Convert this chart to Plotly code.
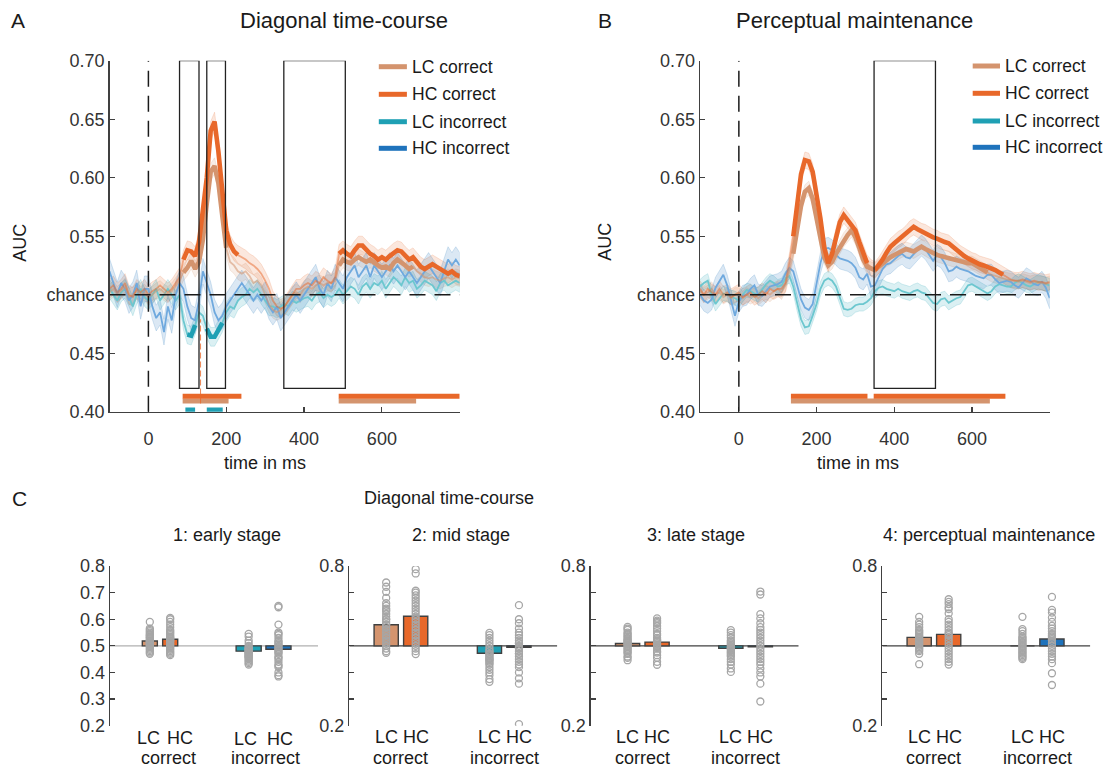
import plotly.graph_objects as go

# ---------------- data ----------------
T = list(range(-100, 801, 10))
SERIES = ["LC correct", "HC correct", "LC incorrect", "HC incorrect"]

A_LC_COR = [0.502, 0.505, 0.500, 0.503, 0.507, 0.498, 0.500, 0.503, 0.500, 0.502,
            0.498, 0.500, 0.503, 0.505, 0.502, 0.500, 0.503, 0.507, 0.512, 0.519,
            0.523, 0.529, 0.522, 0.528, 0.547, 0.578, 0.605, 0.610, 0.595, 0.567,
            0.540, 0.528, 0.525, 0.520, 0.518, 0.520, 0.516, 0.510, 0.512, 0.508,
            0.500, 0.492, 0.487, 0.485, 0.487, 0.490, 0.495, 0.500, 0.502, 0.500,
            0.505, 0.507, 0.505, 0.508, 0.510, 0.508, 0.510, 0.510, 0.512, 0.525,
            0.530, 0.528, 0.527, 0.530, 0.532, 0.530, 0.528, 0.530, 0.527, 0.525,
            0.523, 0.524, 0.522, 0.527, 0.530, 0.528, 0.525, 0.522, 0.524, 0.520,
            0.518, 0.515, 0.514, 0.515, 0.513, 0.512, 0.514, 0.515, 0.513, 0.515,
            0.514]
A_HC_COR = [0.505, 0.508, 0.502, 0.505, 0.510, 0.500, 0.498, 0.505, 0.502, 0.505,
            0.500, 0.503, 0.505, 0.508, 0.505, 0.502, 0.505, 0.510, 0.515, 0.530,
            0.538, 0.537, 0.533, 0.545, 0.570, 0.600, 0.640, 0.648, 0.622, 0.587,
            0.555, 0.543, 0.537, 0.534, 0.532, 0.530, 0.527, 0.525, 0.522, 0.518,
            0.512, 0.505, 0.495, 0.490, 0.488, 0.490, 0.495, 0.500, 0.505, 0.505,
            0.508, 0.510, 0.508, 0.512, 0.510, 0.515, 0.512, 0.510, 0.515, 0.535,
            0.538, 0.535, 0.533, 0.538, 0.542, 0.542, 0.538, 0.535, 0.533, 0.530,
            0.532, 0.530, 0.533, 0.536, 0.538, 0.537, 0.533, 0.530, 0.532, 0.528,
            0.524, 0.522, 0.524, 0.526, 0.524, 0.522, 0.520, 0.518, 0.520, 0.517,
            0.516]
A_LC_INC = [0.505, 0.500, 0.495, 0.502, 0.505, 0.498, 0.490, 0.500, 0.505, 0.498,
            0.495, 0.500, 0.505, 0.495, 0.500, 0.505, 0.500, 0.495, 0.500, 0.478,
            0.466, 0.465, 0.474, 0.485, 0.482, 0.471, 0.464, 0.464, 0.470, 0.476,
            0.485, 0.490, 0.488, 0.495, 0.498, 0.500, 0.505, 0.502, 0.505, 0.500,
            0.495, 0.490, 0.490, 0.488, 0.490, 0.492, 0.490, 0.495, 0.493, 0.495,
            0.497, 0.498, 0.495, 0.500, 0.502, 0.497, 0.500, 0.498, 0.500, 0.505,
            0.500, 0.503, 0.507, 0.505, 0.500, 0.507, 0.510, 0.505, 0.510, 0.508,
            0.512, 0.505, 0.510, 0.515, 0.512, 0.508, 0.515, 0.510, 0.512, 0.505,
            0.508, 0.512, 0.510, 0.508, 0.503, 0.510, 0.512, 0.508, 0.510, 0.512,
            0.510]
A_HC_INC = [0.520, 0.510, 0.500, 0.510, 0.505, 0.495, 0.500, 0.510, 0.490, 0.505,
            0.505, 0.490, 0.480, 0.485, 0.468, 0.490, 0.478, 0.500, 0.510, 0.505,
            0.490, 0.480, 0.478, 0.495, 0.520, 0.510, 0.500, 0.485, 0.478, 0.482,
            0.490, 0.495, 0.500, 0.505, 0.510, 0.505, 0.500, 0.495, 0.500, 0.495,
            0.500, 0.490, 0.485, 0.490, 0.480, 0.485, 0.490, 0.495, 0.500, 0.495,
            0.500, 0.505, 0.510, 0.515, 0.505, 0.500, 0.510, 0.505, 0.515, 0.510,
            0.505, 0.515, 0.520, 0.525, 0.515, 0.520, 0.525, 0.515, 0.525, 0.520,
            0.515, 0.520, 0.525, 0.520, 0.525, 0.520, 0.515, 0.520, 0.515, 0.510,
            0.515, 0.520, 0.525, 0.520, 0.515, 0.510, 0.520, 0.530, 0.525, 0.530,
            0.525]

B_LC_COR = [0.503, 0.500, 0.502, 0.505, 0.500, 0.502, 0.498, 0.500, 0.497, 0.500,
            0.500, 0.497, 0.500, 0.498, 0.500, 0.497, 0.500, 0.502, 0.500, 0.503,
            0.505, 0.502, 0.508, 0.520, 0.535, 0.558, 0.576, 0.588, 0.591, 0.582,
            0.564, 0.546, 0.532, 0.525, 0.528, 0.535, 0.541, 0.547, 0.551, 0.555,
            0.549, 0.540, 0.530, 0.524, 0.522, 0.521, 0.524, 0.527, 0.530, 0.532,
            0.534, 0.536, 0.538, 0.539, 0.538, 0.537, 0.539, 0.541, 0.539, 0.537,
            0.535, 0.534, 0.533, 0.532, 0.531, 0.530, 0.529, 0.528, 0.528, 0.527,
            0.527, 0.525, 0.523, 0.521, 0.519, 0.517, 0.516, 0.515, 0.514, 0.513,
            0.512, 0.512, 0.511, 0.512, 0.511, 0.510, 0.511, 0.510, 0.510, 0.509,
            0.510]
B_HC_COR = [0.505, 0.500, 0.505, 0.502, 0.500, 0.505, 0.500, 0.502, 0.498, 0.500,
            0.502, 0.498, 0.500, 0.502, 0.498, 0.500, 0.503, 0.500, 0.505, 0.503,
            0.505, 0.505, 0.510, 0.528, 0.550, 0.580, 0.603, 0.615, 0.614, 0.605,
            0.587, 0.565, 0.540, 0.527, 0.535, 0.550, 0.562, 0.568, 0.564, 0.560,
            0.555, 0.545, 0.535, 0.527, 0.523, 0.521, 0.525, 0.530, 0.536, 0.541,
            0.544, 0.547, 0.549, 0.552, 0.556, 0.558, 0.556, 0.554, 0.553, 0.551,
            0.549, 0.548, 0.546, 0.545, 0.544, 0.541, 0.538, 0.535, 0.533, 0.531,
            0.529, 0.528, 0.526, 0.525, 0.524, 0.523, 0.521, 0.519, 0.517, 0.515,
            0.513, 0.512, 0.512, 0.513, 0.512, 0.511, 0.512, 0.511, 0.511, 0.510,
            0.511]
B_LC_INC = [0.507, 0.510, 0.512, 0.500, 0.492, 0.497, 0.501, 0.500, 0.498, 0.497,
            0.495, 0.500, 0.504, 0.503, 0.501, 0.500, 0.505, 0.509, 0.512, 0.510,
            0.507, 0.508, 0.514, 0.516, 0.507, 0.492, 0.479, 0.472, 0.473, 0.482,
            0.492, 0.505, 0.512, 0.514, 0.512, 0.507, 0.497, 0.488, 0.487, 0.488,
            0.491, 0.492, 0.492, 0.494, 0.497, 0.503, 0.506, 0.507, 0.505, 0.504,
            0.503, 0.505, 0.503, 0.502, 0.501, 0.503, 0.504, 0.502, 0.501, 0.497,
            0.493, 0.492, 0.496, 0.497, 0.493, 0.495, 0.497, 0.498, 0.503, 0.508,
            0.509, 0.507, 0.505, 0.503, 0.501, 0.503, 0.507, 0.509, 0.508, 0.507,
            0.507, 0.510, 0.512, 0.510, 0.508, 0.507, 0.509, 0.511, 0.510, 0.509,
            0.508]
B_HC_INC = [0.500, 0.495, 0.493, 0.496, 0.506, 0.512, 0.517, 0.508, 0.495, 0.482,
            0.494, 0.499, 0.500, 0.505, 0.508, 0.500, 0.499, 0.503, 0.507, 0.508,
            0.509, 0.511, 0.518, 0.523, 0.520, 0.508, 0.496, 0.489, 0.487, 0.492,
            0.509, 0.527, 0.539, 0.540, 0.538, 0.534, 0.531, 0.530, 0.529, 0.527,
            0.523, 0.515, 0.513, 0.518, 0.507, 0.508, 0.515, 0.522, 0.526, 0.527,
            0.530, 0.533, 0.535, 0.532, 0.531, 0.535, 0.538, 0.542, 0.539, 0.534,
            0.529, 0.534, 0.532, 0.527, 0.520, 0.521, 0.524, 0.522, 0.521, 0.520,
            0.518, 0.516, 0.515, 0.514, 0.517, 0.517, 0.513, 0.510, 0.511, 0.512,
            0.511, 0.508, 0.506, 0.510, 0.514, 0.512, 0.509, 0.508, 0.511, 0.506,
            0.497]

# half-width of the shaded error band per series (LC cor, HC cor, LC inc, HC inc)
A_SEM = [0.007, 0.008, 0.008, 0.011]
B_SEM = [0.006, 0.007, 0.006, 0.009]

# significant clusters (ms)
A_SIG = {"HC correct": [(88, 239), (489, 800)],
         "LC correct": [(88, 206), (489, 688)],
         "LC incorrect": [(95, 120), (150, 191)]}
B_SIG = {"HC correct": [(134, 331), (347, 686)],
         "LC correct": [(134, 646)]}

# analysis windows (ms)
A_WINDOWS = [(80, 130), (150, 198), (348, 506)]
B_WINDOWS = [(348, 506)]
PEAK_MARK_T = 134

# panel C: mean AUC per condition (LC cor, HC cor, LC inc, HC inc)
C_TITLES = ["1: early stage", "2: mid stage", "3: late stage", "4: perceptual maintenance"]
C_MEANS = [[0.518, 0.525, 0.480, 0.487],
           [0.579, 0.611, 0.472, 0.495],
           [0.509, 0.514, 0.491, 0.496],
           [0.532, 0.543, 0.500, 0.526]]

C1_POINTS = [
    [0.590, 0.565, 0.560, 0.555, 0.550, 0.545, 0.540, 0.540, 0.535, 0.530, 0.530, 0.525, 0.520, 0.520,
     0.515, 0.515, 0.510, 0.510, 0.505, 0.500, 0.500, 0.495, 0.490, 0.485, 0.480, 0.475, 0.470],
    [0.605, 0.600, 0.590, 0.580, 0.570, 0.560, 0.555, 0.550, 0.545, 0.540, 0.535, 0.530, 0.525, 0.520,
     0.520, 0.515, 0.510, 0.505, 0.500, 0.495, 0.490, 0.485, 0.480, 0.475, 0.470, 0.465, 0.530],
    [0.545, 0.535, 0.520, 0.510, 0.500, 0.495, 0.490, 0.485, 0.480, 0.480, 0.475, 0.470, 0.470, 0.465,
     0.460, 0.455, 0.450, 0.445, 0.440, 0.435, 0.430, 0.460, 0.475, 0.485, 0.490, 0.465, 0.455],
    [0.650, 0.645, 0.580, 0.550, 0.545, 0.540, 0.530, 0.520, 0.515, 0.510, 0.505, 0.500, 0.495, 0.490,
     0.485, 0.480, 0.475, 0.470, 0.460, 0.455, 0.450, 0.440, 0.430, 0.425, 0.420, 0.400, 0.390, 0.385]]
C2_POINTS = [
    [0.738, 0.722, 0.703, 0.680, 0.660, 0.650, 0.640, 0.635, 0.630, 0.620, 0.610, 0.600, 0.590, 0.580,
     0.570, 0.560, 0.550, 0.540, 0.530, 0.520, 0.510, 0.500, 0.490, 0.480, 0.474, 0.600, 0.580],
    [0.788, 0.772, 0.707, 0.700, 0.690, 0.680, 0.670, 0.660, 0.650, 0.640, 0.630, 0.620, 0.610, 0.600,
     0.590, 0.580, 0.570, 0.560, 0.550, 0.540, 0.530, 0.520, 0.510, 0.500, 0.490, 0.480, 0.469],
    [0.549, 0.540, 0.530, 0.520, 0.510, 0.500, 0.490, 0.480, 0.470, 0.465, 0.460, 0.455, 0.450, 0.445,
     0.440, 0.435, 0.430, 0.420, 0.410, 0.400, 0.390, 0.375, 0.365, 0.470, 0.450, 0.480],
    [0.653, 0.600, 0.585, 0.565, 0.550, 0.540, 0.530, 0.520, 0.510, 0.500, 0.495, 0.490, 0.480, 0.470,
     0.460, 0.450, 0.440, 0.430, 0.420, 0.400, 0.378, 0.358, 0.206, 0.510, 0.490, 0.470]]
C3_POINTS = [
    [0.571, 0.565, 0.560, 0.550, 0.545, 0.540, 0.535, 0.530, 0.525, 0.520, 0.515, 0.510, 0.505, 0.500,
     0.495, 0.490, 0.485, 0.480, 0.475, 0.470, 0.460, 0.455, 0.446, 0.520, 0.510],
    [0.603, 0.595, 0.590, 0.585, 0.575, 0.565, 0.555, 0.545, 0.540, 0.530, 0.525, 0.520, 0.515, 0.510,
     0.505, 0.500, 0.495, 0.490, 0.480, 0.475, 0.465, 0.455, 0.440, 0.429, 0.520],
    [0.559, 0.550, 0.540, 0.530, 0.520, 0.515, 0.510, 0.505, 0.500, 0.495, 0.490, 0.485, 0.480, 0.475,
     0.470, 0.465, 0.460, 0.450, 0.440, 0.430, 0.415, 0.402, 0.490],
    [0.704, 0.693, 0.619, 0.603, 0.585, 0.570, 0.560, 0.550, 0.540, 0.530, 0.520, 0.510, 0.500, 0.490,
     0.480, 0.470, 0.460, 0.450, 0.440, 0.430, 0.415, 0.400, 0.385, 0.358, 0.291]]
C4_POINTS = [
    [0.609, 0.590, 0.580, 0.570, 0.560, 0.555, 0.550, 0.545, 0.540, 0.535, 0.530, 0.525, 0.520, 0.515,
     0.510, 0.505, 0.500, 0.495, 0.490, 0.485, 0.480, 0.470, 0.431],
    [0.675, 0.665, 0.657, 0.645, 0.638, 0.622, 0.600, 0.590, 0.580, 0.570, 0.560, 0.550, 0.545, 0.540,
     0.530, 0.520, 0.510, 0.500, 0.490, 0.480, 0.470, 0.460, 0.450, 0.440, 0.430],
    [0.609, 0.563, 0.555, 0.545, 0.535, 0.530, 0.525, 0.520, 0.515, 0.510, 0.505, 0.500, 0.495, 0.490,
     0.485, 0.480, 0.475, 0.470, 0.465, 0.460, 0.455, 0.450],
    [0.684, 0.635, 0.625, 0.606, 0.590, 0.575, 0.565, 0.555, 0.545, 0.540, 0.535, 0.530, 0.525, 0.520,
     0.510, 0.500, 0.490, 0.480, 0.470, 0.460, 0.450, 0.435, 0.397, 0.353]]
C_POINTS = [C1_POINTS, C2_POINTS, C3_POINTS, C4_POINTS]

# ---------------- style ----------------
W, H = 1109, 769
FONT = "Liberation Sans, Arial, Helvetica, sans-serif"
TXT = "#1a1a1a"
AX = "#404040"
RGB = {"LC correct": (212, 148, 110), "HC correct": (232, 104, 42),
       "LC incorrect": (31, 160, 180), "HC incorrect": (31, 115, 188)}
THIN = {"LC correct": "rgba(212,148,110,0.55)", "HC correct": "rgba(232,104,42,0.5)",
        "LC incorrect": "rgb(108,199,207)", "HC incorrect": "rgb(111,169,222)"}
SIG_LEVEL = {"HC correct": 0.4131, "LC correct": 0.4091, "LC incorrect": 0.4015}


def col(name, a=1.0):
    r, g, b = RGB[name]
    return f"rgba({r},{g},{b},{a})"


def fx(p):
    return p / W


def fy(p):
    return 1 - p / H


fig = go.Figure()

# ---------------- time-course panels ----------------
panels = [
    ("x", "y", [A_LC_COR, A_HC_COR, A_LC_INC, A_HC_INC], A_SEM, A_SIG, A_WINDOWS),
    ("x2", "y2", [B_LC_COR, B_HC_COR, B_LC_INC, B_HC_INC], B_SEM, B_SIG, B_WINDOWS),
]
for xa, ya, data, sems, sig, windows in panels:
    for name, vals, s in zip(SERIES, data, sems):
        up = [v + s for v in vals]
        lo = [v - s for v in vals]
        fig.add_trace(go.Scatter(x=T + T[::-1], y=up + lo[::-1], fill="toself",
                                 fillcolor=col(name, 0.16), line=dict(width=0.7, color=col(name, 0.25)),
                                 mode="lines", hoverinfo="skip", xaxis=xa, yaxis=ya))
    for idx in [2, 3, 0, 1]:
        name = SERIES[idx]
        fig.add_trace(go.Scatter(x=T, y=data[idx], mode="lines",
                                 line=dict(width=1.8, color=THIN[name]),
                                 xaxis=xa, yaxis=ya, hoverinfo="skip"))
    for idx in [2, 3, 0, 1]:
        name = SERIES[idx]
        if name not in sig:
            continue
        yy = []
        for t, v in zip(T, data[idx]):
            inside = any(a <= t <= b for a, b in sig[name])
            yy.append(v if inside else None)
        fig.add_trace(go.Scatter(x=T, y=yy, mode="lines", connectgaps=False,
                                 line=dict(width=4.6, color=col(name)),
                                 xaxis=xa, yaxis=ya, hoverinfo="skip"))
    for name in ["LC incorrect", "LC correct", "HC correct"]:
        for a, b in sig.get(name, []):
            fig.add_shape(type="line", xref=xa, yref=ya, x0=a, x1=b,
                          y0=SIG_LEVEL[name], y1=SIG_LEVEL[name],
                          line=dict(color=col(name), width=5))
    for a, b in windows:
        fig.add_shape(type="rect", xref=xa, yref=ya, x0=a, x1=b, y0=0.42, y1=0.70,
                      line=dict(color="#222222", width=1.3), fillcolor="rgba(0,0,0,0)")
    fig.add_shape(type="line", xref=xa, yref=ya, x0=-100, x1=800, y0=0.5, y1=0.5,
                  line=dict(color="#1a1a1a", width=1.5, dash="16px,9px"))
    fig.add_shape(type="line", xref=xa, yref=ya, x0=0, x1=0, y0=0.40, y1=0.70,
                  line=dict(color="#1a1a1a", width=1.5, dash="16px,9px"))

fig.add_shape(type="line", xref="x", yref="y", x0=PEAK_MARK_T, x1=PEAK_MARK_T, y0=0.407, y1=0.479,
              line=dict(color=col("HC correct", 0.8), width=1, dash="6px,3px"))

# ---------------- panel C ----------------
POS = [[1.10, 1.79, 4.45, 5.46], [1, 2, 4.5, 5.5], [1, 2, 4.5, 5.5], [1, 2, 4.5, 5.5]]
WID = [[0.51, 0.51, 0.85, 0.85], [0.82] * 4, [0.82] * 4, [0.82] * 4]
for k in range(4):
    xa, ya = f"x{k + 3}", f"y{k + 3}"
    means = C_MEANS[k]
    fig.add_trace(go.Bar(x=POS[k], y=[m - 0.5 for m in means], base=0.5, width=WID[k],
                         marker=dict(color=[col(n) for n in SERIES], line=dict(color=AX, width=1.4)),
                         xaxis=xa, yaxis=ya, hoverinfo="skip"))
    for j in range(4):
        pts = C_POINTS[k][j]
        fig.add_trace(go.Scatter(x=[POS[k][j]] * len(pts), y=pts, mode="markers",
                                 marker=dict(symbol="circle-open", size=7, color="#a6a6a6",
                                             line=dict(width=1.3)),
                                 xaxis=xa, yaxis=ya, hoverinfo="skip"))
    fig.add_shape(type="line", xref=xa, yref=ya, x0=-0.25, x1=6.8, y0=0.5, y1=0.5, layer="below",
                  line=dict(color="#b0b0b0" if k == 0 else AX, width=1.2))

# ---------------- axes ----------------
base_ax = dict(showline=True, linecolor=AX, linewidth=1.3, ticks="inside", ticklen=5,
               tickcolor=AX, tickwidth=1.2, showgrid=False, zeroline=False, automargin=False,
               tickfont=dict(size=18, color="#333333", family=FONT))
ytv = [0.40, 0.45, 0.50, 0.55, 0.60, 0.65, 0.70]
ytt = ["0.40", "0.45", "chance", "0.55", "0.60", "0.65", "0.70"]
lay = dict(
    xaxis=dict(base_ax, domain=[fx(109.5), fx(459.7)], range=[-100, 800], anchor="y",
               tickvals=[0, 200, 400, 600], ticklabelstandoff=10),
    yaxis=dict(base_ax, domain=[fy(411.7), fy(60.7)], range=[0.40, 0.70], anchor="x",
               tickvals=ytv, ticktext=ytt),
    xaxis2=dict(base_ax, domain=[fx(700), fx(1049.7)], range=[-100, 800], anchor="y2",
                tickvals=[0, 200, 400, 600], ticklabelstandoff=10),
    yaxis2=dict(base_ax, domain=[fy(411.7), fy(60.7)], range=[0.40, 0.70], anchor="x2",
                tickvals=ytv, ticktext=ytt),
)
c_left = [110, 349.3, 590.7, 882.3]
cy = [0.2, 0.3, 0.4, 0.5, 0.6, 0.7, 0.8]
for k in range(4):
    lay[f"xaxis{k + 3}"] = dict(domain=[fx(c_left[k]), fx(c_left[k] + 208)], range=[-0.25, 6.8],
                                visible=False, automargin=False, anchor=f"y{k + 3}")
    ttxt = ["0.2", "0.3", "0.4", "0.5", "0.6", "0.7", "0.8"] if k == 0 else ["0.2", "", "", "", "", "", "0.8"]
    lay[f"yaxis{k + 3}"] = dict(base_ax, domain=[fy(725.7), fy(566)], range=[0.2, 0.8],
                                anchor=f"x{k + 3}", tickvals=cy, ticktext=ttxt)

fig.update_layout(width=W, height=H, margin=dict(l=0, r=0, t=0, b=0, pad=0, autoexpand=False),
                  paper_bgcolor="white", plot_bgcolor="white", showlegend=False,
                  barmode="overlay", font=dict(family=FONT, size=18, color=TXT), **lay)


def ann(text, x, y, size=18, xanchor="center", yanchor="middle", angle=0,
        xref="paper", yref="paper"):
    fig.add_annotation(text=text, x=x, y=y, xref=xref, yref=yref, xanchor=xanchor, yanchor=yanchor,
                       showarrow=False, textangle=angle, borderpad=0,
                       font=dict(size=size, color=TXT, family=FONT))


ann("A", fx(18.3), fy(20.7), size=21)
ann("Diagonal time-course", fx(344), fy(20.7), size=22)
ann("B", fx(605), fy(20.7), size=21)
ann("Perceptual maintenance", fx(854), fy(20.7), size=22)
ann("AUC", fx(20), fy(242.7), angle=-90)
ann("AUC", fx(605), fy(241.7), angle=-90)
ann("time in ms", fx(265), fy(463.3))
ann("time in ms", fx(858.3), fy(463.3))
ann("C", fx(19.6), fy(498), size=21)
ann("Diagonal time-course", fx(449), fy(498))
for xc, t in zip([226.7, 460.7, 695.7, 988.5], C_TITLES):
    ann(t, fx(xc), fy(535))

leg_rows = {"A": ([66.7, 94.3, 121.7, 148.3], 378.8, 406.9, 411),
            "B": ([66.0, 93.3, 121.0, 147.3], 972.7, 1000.0, 1004)}
for key, (rows, x0, x1, xt) in leg_rows.items():
    for name, yr in zip(SERIES, rows):
        fig.add_shape(type="line", xref="paper", yref="paper", x0=fx(x0), x1=fx(x1),
                      y0=fy(yr), y1=fy(yr), line=dict(color=col(name), width=5))
        ann(name, fx(xt), fy(yr), size=17.5, xanchor="left")

for k in range(4):
    xa = f"x{k + 3}"
    if k == 0:
        cor_x, inc_x, cor_mid, inc_mid = [1.05, 2.12], [4.35, 5.51], 1.72, 5.03
        y_cor, y_inc = 737.5, 738.5
    else:
        cor_x, inc_x, cor_mid, inc_mid = POS[k][:2], POS[k][2:], 1.5, 5.0
        y_cor, y_inc = 737, 737
    for xx, lab in zip(cor_x, ["LC", "HC"]):
        ann(lab, xx, fy(y_cor), xref=xa)
    for xx, lab in zip(inc_x, ["LC", "HC"]):
        ann(lab, xx, fy(y_inc), xref=xa)
    ann("correct", cor_mid, fy(758), xref=xa)
    ann("incorrect", inc_mid, fy(758), xref=xa)

fig.write_html("out.html", config={"displayModeBar": False, "staticPlot": True},
               post_script="document.body.style.margin='0px';document.body.style.padding='0px';"
                           "document.body.style.overflow='hidden';")
